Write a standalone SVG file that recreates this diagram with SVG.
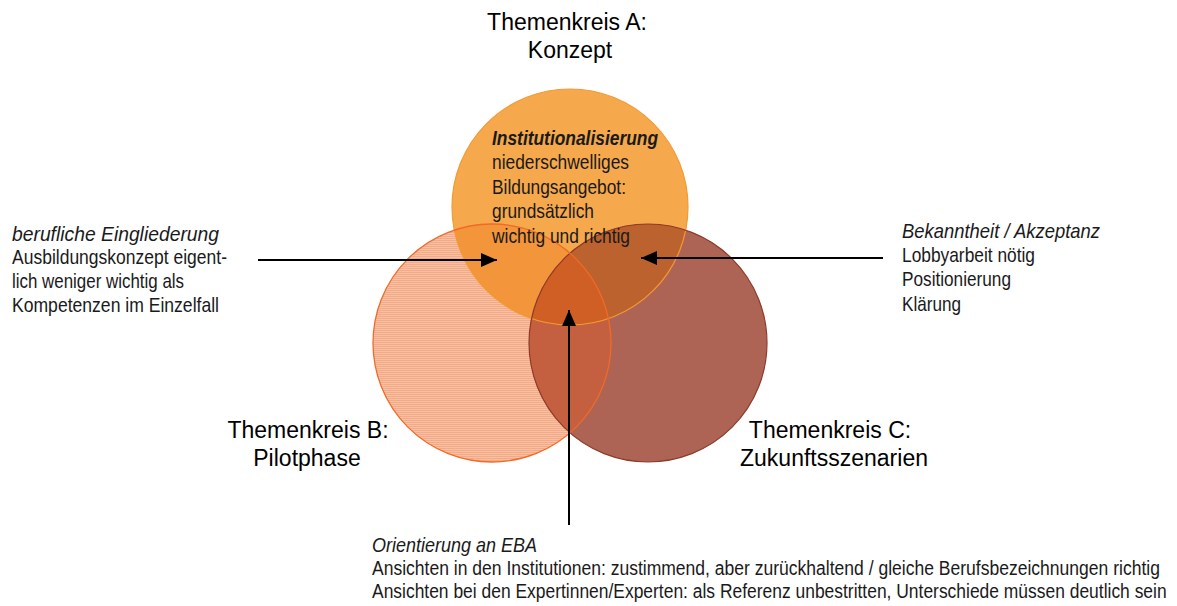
<svg xmlns="http://www.w3.org/2000/svg" width="1177" height="606" viewBox="0 0 1177 606">
<style>
.title{font-family:"Liberation Sans",Arial,sans-serif;font-size:23px;fill:#000;text-anchor:middle}
.nt{font-family:"Liberation Sans Narrow","Arial Narrow","Liberation Sans",Arial,sans-serif;font-size:21px;fill:#1a1a1a}
.it{font-style:italic}
.bi{font-style:italic;font-weight:bold}
.conn{stroke:#000;stroke-width:2;fill:none;marker-end:url(#arr)}
</style>
<defs>
<pattern id="hatch" width="4" height="2" patternUnits="userSpaceOnUse">
<rect width="4" height="2" fill="#F8C0A2"/>
<rect width="4" height="1" fill="#F4AA86"/>
</pattern>
<clipPath id="clipA"><circle cx="570" cy="207" r="118"/></clipPath>
<clipPath id="clipB"><circle cx="492" cy="343" r="119"/></clipPath>
<marker id="arr" markerUnits="userSpaceOnUse" markerWidth="17" markerHeight="16" refX="16" refY="7" orient="auto">
<path d="M0,0 L16,7 L0,14 z" fill="#000"/>
</marker>
</defs>

<g id="nodeB">
<circle cx="492" cy="343" r="119" fill="url(#hatch)"/>
</g>
<g id="nodeA">
<circle cx="570" cy="207" r="118" fill="#F6A84C"/>
</g>
<g id="nodeC">
<circle cx="648" cy="343" r="119" fill="#AD6454"/>
</g>
<g id="overlaps">
<circle cx="492" cy="343" r="119" fill="#F2953B" clip-path="url(#clipA)"/>
<circle cx="648" cy="343" r="119" fill="#BB622F" clip-path="url(#clipA)"/>
<circle cx="648" cy="343" r="119" fill="#C4603F" clip-path="url(#clipB)"/>
<g clip-path="url(#clipB)"><circle cx="648" cy="343" r="119" fill="#D05F26" clip-path="url(#clipA)"/></g>
</g>
<g id="outlines" fill="none">
<circle cx="570" cy="207" r="118" stroke="#F39A32" stroke-width="1.2"/>
<circle cx="648" cy="343" r="119" stroke="#8E3B2B" stroke-width="1.2"/>
<circle cx="492" cy="343" r="119" stroke="#F06A28" stroke-width="1.3"/>
</g>

<g id="labelA">
<text class="title" x="567" y="30">Themenkreis A:</text>
<text class="title" x="570" y="58">Konzept</text>
</g>
<g id="labelB">
<text class="title" x="308" y="438">Themenkreis B:</text>
<text class="title" x="307" y="466">Pilotphase</text>
</g>
<g id="labelC">
<text class="title" x="830" y="438">Themenkreis C:</text>
<text class="title" x="834" y="466">Zukunftsszenarien</text>
</g>

<g id="noteInst" class="nt">
<text class="bi" x="492" y="145" textLength="166" lengthAdjust="spacingAndGlyphs">Institutionalisierung</text>
<text x="492" y="169" textLength="137" lengthAdjust="spacingAndGlyphs">niederschwelliges</text>
<text x="492" y="194" textLength="134" lengthAdjust="spacingAndGlyphs">Bildungsangebot:</text>
<text x="492" y="218" textLength="102" lengthAdjust="spacingAndGlyphs">grundsätzlich</text>
<text x="492" y="243" textLength="138" lengthAdjust="spacingAndGlyphs">wichtig und richtig</text>
</g>

<g id="noteLeft" class="nt">
<text class="it" x="12" y="241" textLength="207" lengthAdjust="spacingAndGlyphs">berufliche Eingliederung</text>
<text x="12" y="264" textLength="215" lengthAdjust="spacingAndGlyphs">Ausbildungskonzept eigent-</text>
<text x="12" y="288" textLength="172" lengthAdjust="spacingAndGlyphs">lich weniger wichtig als</text>
<text x="12" y="312" textLength="207" lengthAdjust="spacingAndGlyphs">Kompetenzen im Einzelfall</text>
</g>

<g id="noteRight" class="nt">
<text class="it" x="902" y="238" textLength="198" lengthAdjust="spacingAndGlyphs">Bekanntheit / Akzeptanz</text>
<text x="902" y="262" textLength="133" lengthAdjust="spacingAndGlyphs">Lobbyarbeit nötig</text>
<text x="902" y="286" textLength="109" lengthAdjust="spacingAndGlyphs">Positionierung</text>
<text x="902" y="311" textLength="59" lengthAdjust="spacingAndGlyphs">Klärung</text>
</g>

<g id="noteBottom" class="nt">
<text class="it" x="372" y="552" textLength="165" lengthAdjust="spacingAndGlyphs">Orientierung an EBA</text>
<text transform="translate(372,575) scale(0.84,1)" x="0" y="0" textLength="938" lengthAdjust="spacingAndGlyphs">Ansichten in den Institutionen: zustimmend, aber zurückhaltend / gleiche Berufsbezeichnungen richtig</text>
<text transform="translate(372,598) scale(0.84,1)" x="0" y="0" textLength="946" lengthAdjust="spacingAndGlyphs">Ansichten bei den Expertinnen/Experten: als Referenz unbestritten, Unterschiede müssen deutlich sein</text>
</g>

<g id="connectors">
<line class="conn" x1="258" y1="260" x2="497" y2="260"/>
<line class="conn" x1="883" y1="258" x2="641" y2="258"/>
<line class="conn" x1="569" y1="525" x2="569" y2="310"/>
</g>
</svg>
